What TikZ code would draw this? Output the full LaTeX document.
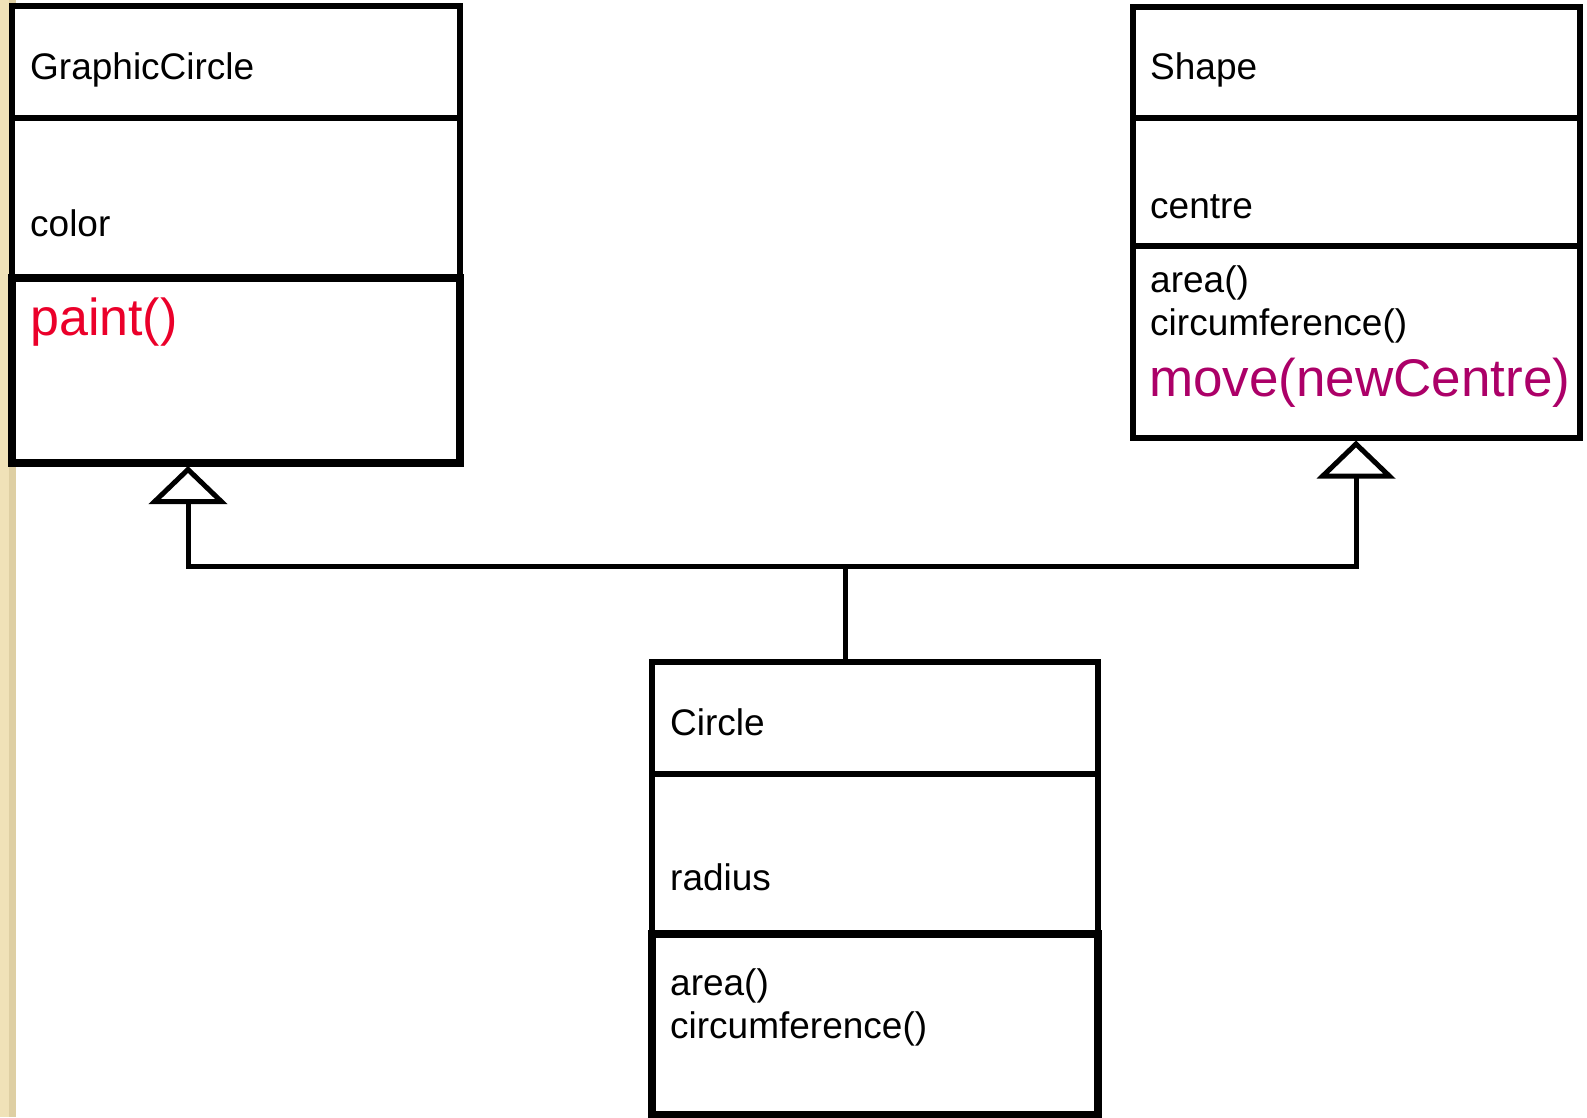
\documentclass[tikz,border=0pt]{standalone}
\usepackage{fontspec}
\setmainfont{Liberation Sans}
\usetikzlibrary{arrows.meta,calc}
\definecolor{beigeA}{RGB}{240,226,184}
\definecolor{beigeB}{RGB}{222,207,163}
\definecolor{opred}{RGB}{235,0,42}
\definecolor{opmag}{RGB}{172,0,104}
\tikzset{
  classbox/.style={draw=black, fill=white, line width=6pt, inner sep=0pt, outer sep=0pt, anchor=north west},
  opsbox/.style={draw=black, line width=7.5pt, inner sep=0pt, outer sep=0pt, anchor=north west},
  divider/.style={draw=black, line width=6pt},
  txt/.style={anchor=base west, inner sep=0pt, font=\fontsize{37}{43}\selectfont},
  bigtxt/.style={anchor=base west, inner sep=0pt},
  conn/.style={draw=black, line width=5pt},
  gen/.style={conn, -{Triangle[open, length=38pt 0, width=78pt 0, line join=miter]}}
}
\begin{document}
\begin{tikzpicture}[x=1pt, y=-1pt]
\useasboundingbox (0,0) rectangle (1587,1117);
\fill[white] (0,0) rectangle (1587,1117);
\fill[beigeA] (0,0) rectangle (16,1117);
\fill[beigeB] (9,0) rectangle (16,1117);

% GraphicCircle
\node[classbox, minimum width=448pt, minimum height=457pt] (GC) at (12,6) {};
\draw[divider] (GC.west |- 0,118) -- (GC.east |- 0,118);
\node[opsbox, minimum width=448pt, minimum height=185pt] (GCops) at (12,278) {};
\node[txt] (GCname) at (30,79) {GraphicCircle};
\node[txt] (GCattr) at (30,236) {color};
\node[bigtxt, text=opred, font=\fontsize{52}{60}\selectfont] (GCop) at (30,335) {paint()};

% Shape
\node[classbox, minimum width=447.5pt, minimum height=431pt] (SH) at (1132.5,6.5) {};
\draw[divider] (SH.west |- 0,118) -- (SH.east |- 0,118);
\draw[divider] (SH.west |- 0,246) -- (SH.east |- 0,246);
\node[txt] (SHname) at (1150,79) {Shape};
\node[txt] (SHattr) at (1150,218) {centre};
\node[txt] (SHop1) at (1150,292) {area()};
\node[txt] (SHop2) at (1150,335) {circumference()};
\node[bigtxt, text=opmag, font=\fontsize{53}{60}\selectfont] (SHop3) at (1149,396) {move(newCentre)};

% Circle
\node[classbox, minimum width=446pt, minimum height=452pt] (CI) at (652,662) {};
\draw[divider] (CI.west |- 0,774) -- (CI.east |- 0,774);
\node[opsbox, minimum width=446pt, minimum height=182pt] (CIops) at (652,934) {};
\node[txt] (CIname) at (670,735) {Circle};
\node[txt] (CIattr) at (670,890) {radius};
\node[txt] (CIop1) at (670,995) {area()};
\node[txt] (CIop2) at (670,1038) {circumference()};

% generalisation connectors
\coordinate (J) at (845,566);
\coordinate (GCtip) at (188,466);
\coordinate (SHtip) at (1356,440.5);
\draw[conn] (CI.north -| J) -- (J);
\draw[gen] (J) -| (GCtip);
\draw[gen] (J) -| (SHtip);
\end{tikzpicture}
\end{document}
